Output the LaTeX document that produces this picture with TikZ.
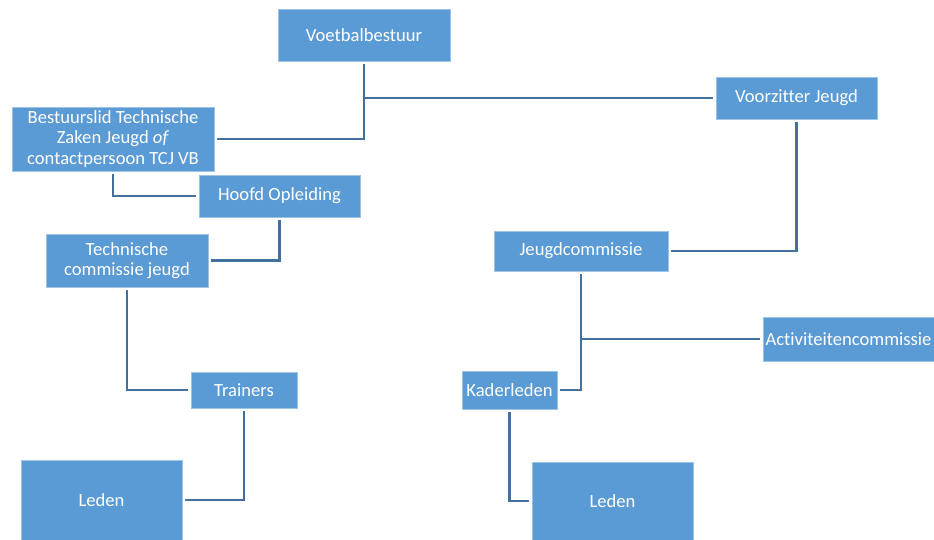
\documentclass[tikz,border=0pt]{standalone}
\usepackage{fontspec}
\setmainfont{Carlito}[Ligatures=CommonOff]
\usepackage{tikz}
\definecolor{boxblue}{HTML}{5B9BD5}
\definecolor{lineblue}{HTML}{41719C}
\definecolor{edgeblue}{HTML}{9DC3E6}

\begin{document}
\begin{tikzpicture}[x=1pt,y=-1pt,
  box/.style={fill=boxblue,draw=edgeblue,line width=0.8pt,text=white,inner sep=0pt,align=center,
    font=\fontsize{18.6}{20.5}\selectfont},
  link/.style={draw=lineblue,line width=2.4pt,shorten <=3pt,shorten >=2.5pt}]
\useasboundingbox (0,0) rectangle (934,539);
% bestuur
\node[box,minimum width=172,minimum height=52] (vb) at (364,35) {Voetbalbestuur};
\node[box,minimum width=202,minimum height=64] (bl) at (113,139) {Bestuurslid Technische\\Zaken Jeugd \textit{of}\\contactpersoon TCJ VB};
\node[box,minimum width=161,minimum height=42] (vz) at (796.5,98) {Voorzitter Jeugd};
% technische kant
\node[box,minimum width=161,minimum height=42] (ho) at (279.5,196) {Hoofd Opleiding};
\node[box,minimum width=162,minimum height=53] (tc) at (127,260.5) {Technische\\commissie jeugd};
\node[box,minimum width=106,minimum height=36] (tr) at (244,390) {Trainers};
\node[box,minimum width=161,minimum height=80] (ledenL) at (101.5,500) {Leden};
% jeugd kant
\node[box,minimum width=174,minimum height=40] (jc) at (581,251) {Jeugdcommissie};
\node[box,minimum width=171,minimum height=44] (ac) at (848.5,339) {Activiteitencommissie};
\node[box,minimum width=95,minimum height=38] (kl) at (509.5,390) {Kaderleden};
\node[box,minimum width=161,minimum height=78] (ledenR) at (612.5,501) {Leden};
% lijnen
\draw[link] (vb.south) |- (bl.east);
\draw[link,shorten <=0pt] (vb.south |- vz.west) -- (vz.west);
\draw[link] (bl.south) |- (ho.west);
\draw[link] (ho.south) |- (tc.east);
\draw[link] (tc.south) |- (tr.west);
\draw[link] (tr.south) |- (ledenL.east);
\draw[link] (vz.south) |- (jc.east);
\draw[link] (jc.south) |- (kl.east);
\draw[link,shorten <=0pt] (jc.south |- ac.west) -- (ac.west);
\draw[link] (kl.south) |- (ledenR.west);
\end{tikzpicture}
\end{document}
